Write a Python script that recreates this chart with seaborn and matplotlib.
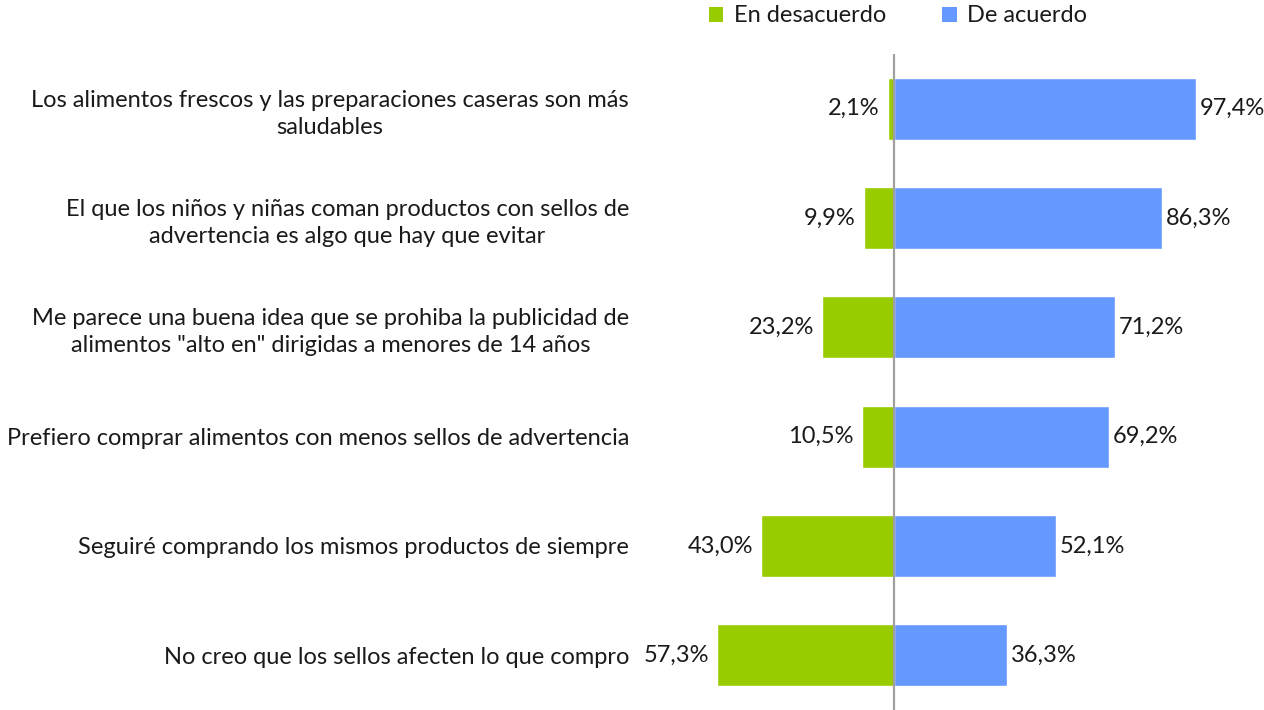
import matplotlib
matplotlib.use("Agg")
import matplotlib.pyplot as plt
from matplotlib.patches import Patch
import seaborn as sns
import pandas as pd

# Survey statements and share of respondents (%) per answer
statements = [
    "Los alimentos frescos y las preparaciones caseras son más\nsaludables",
    "El que los niños y niñas coman productos con sellos de\nadvertencia es algo que hay que evitar",
    "Me parece una buena idea que se prohiba la publicidad de\nalimentos \"alto en\" dirigidas a menores de 14 años",
    "Prefiero comprar alimentos con menos sellos de advertencia",
    "Seguiré comprando los mismos productos de siempre",
    "No creo que los sellos afecten lo que compro",
]
desacuerdo = [2.1, 9.9, 23.2, 10.5, 43.0, 57.3]
acuerdo = [97.4, 86.3, 71.2, 69.2, 52.1, 36.3]

series_names = ["En desacuerdo", "De acuerdo"]
green = "#99CC00"
blue = "#6699FF"
text_color = "#1a1a1a"
fs = 17

sns.set_theme(style="white")
plt.rcParams["font.family"] = ["Lato", "DejaVu Sans"]

df = pd.DataFrame({
    "statement": statements,
    "desacuerdo": [-v for v in desacuerdo],
    "acuerdo": acuerdo,
})

W, H = 1264, 710
fig = plt.figure(figsize=(W / 100, H / 100), dpi=100)
# axes: x from -82 to 108 spanning pixels 640..1229, rows spanning 54..710
ax = fig.add_axes([640 / W, 0.0, 589 / W, 656 / H])

sns.barplot(data=df, x="desacuerdo", y="statement", orient="h",
            color=green, width=0.57, saturation=1, ax=ax)
sns.barplot(data=df, x="acuerdo", y="statement", orient="h",
            color=blue, width=0.57, saturation=1, ax=ax)

ax.set_xlim(-82, 108)
ax.set_ylim(5.5, -0.5)
ax.axvline(0, color="#A0A0A0", lw=1.6, zorder=5)

def fmt(v):
    return f"{v:.1f}".replace(".", ",") + "%"

for i, v in enumerate(desacuerdo):
    ax.text(-v - 2.5, i, fmt(v), ha="right", va="center",
            fontsize=fs, color=text_color, clip_on=False)
for i, v in enumerate(acuerdo):
    ax.text(v + 1.2, i, fmt(v), ha="left", va="center",
            fontsize=fs, color=text_color, clip_on=False)

ax.set_xlabel("")
ax.set_ylabel("")
ax.set_xticks([])
ax.tick_params(axis="y", length=0, pad=8, labelsize=fs, labelcolor=text_color)
for lab in ax.get_yticklabels():
    lab.set_multialignment("center")
    lab.set_linespacing(1.35)
for s in ax.spines.values():
    s.set_visible(False)

handles = [Patch(facecolor=green, edgecolor="none"),
           Patch(facecolor=blue, edgecolor="none")]
fig.legend(handles, series_names, loc="center", bbox_to_anchor=(898 / W, 1 - 16 / H),
           ncol=2, frameon=False, fontsize=fs, handlelength=0.6, handleheight=0.6,
           handletextpad=0.45, columnspacing=2.4, labelcolor=text_color)

fig.savefig("out.png", dpi=100)
